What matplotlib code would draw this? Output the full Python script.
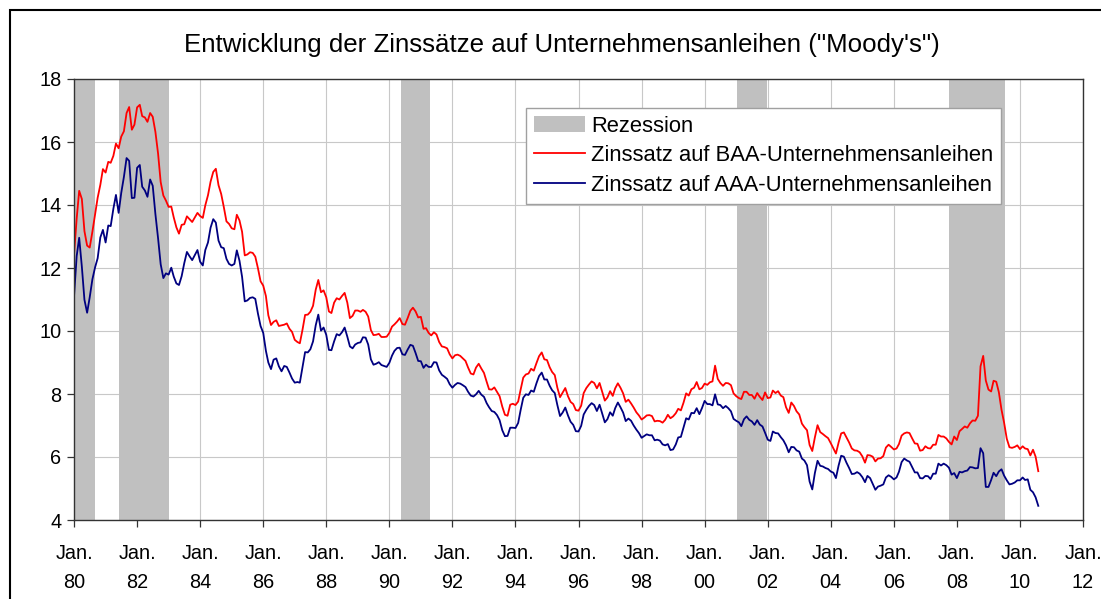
import numpy as np
import pandas as pd
import matplotlib
matplotlib.use("Agg")
import matplotlib.pyplot as plt
import matplotlib.patches as mpatches
from matplotlib.lines import Line2D

plt.rcParams["font.family"] = ["Liberation Sans", "DejaVu Sans"]

# Moody's monthly yields in %, Jan 1980 .. Aug 2010
baa = [
    12.42, 13.57, 14.45, 14.19, 13.17, 12.71, 12.65, 13.15, 13.70, 14.23, 14.64, 15.14,  # 1980
    15.03, 15.37, 15.34, 15.56, 15.95, 15.80, 16.17, 16.34, 16.92, 17.11, 16.39, 16.55,  # 1981
    17.10, 17.18, 16.82, 16.78, 16.64, 16.92, 16.80, 16.32, 15.63, 14.73, 14.30, 14.14,  # 1982
    13.94, 13.95, 13.61, 13.29, 13.09, 13.37, 13.39, 13.64, 13.55, 13.46, 13.61, 13.75,  # 1983
    13.65, 13.59, 13.99, 14.31, 14.74, 15.05, 15.15, 14.63, 14.35, 13.94, 13.48, 13.40,  # 1984
    13.26, 13.23, 13.69, 13.51, 13.15, 12.40, 12.43, 12.50, 12.48, 12.36, 11.99, 11.58,  # 1985
    11.44, 11.11, 10.50, 10.19, 10.29, 10.34, 10.16, 10.18, 10.20, 10.24, 10.07, 9.97,   # 1986
    9.72, 9.65, 9.61, 10.04, 10.51, 10.52, 10.61, 10.80, 11.31, 11.62, 11.23, 11.29,     # 1987
    11.07, 10.62, 10.57, 10.90, 11.04, 11.00, 11.11, 11.21, 10.90, 10.41, 10.48, 10.65,  # 1988
    10.65, 10.61, 10.67, 10.61, 10.46, 10.03, 9.87, 9.88, 9.91, 9.81, 9.81, 9.82,        # 1989
    9.94, 10.14, 10.21, 10.30, 10.41, 10.22, 10.20, 10.41, 10.64, 10.74, 10.62, 10.43,   # 1990
    10.45, 10.07, 10.09, 9.94, 9.86, 9.96, 9.89, 9.65, 9.51, 9.49, 9.45, 9.26,           # 1991
    9.13, 9.23, 9.25, 9.21, 9.13, 9.05, 8.84, 8.65, 8.62, 8.84, 8.96, 8.81,              # 1992
    8.67, 8.39, 8.15, 8.14, 8.21, 8.07, 7.93, 7.60, 7.34, 7.31, 7.66, 7.69,              # 1993
    7.65, 7.76, 8.13, 8.52, 8.62, 8.65, 8.80, 8.74, 8.98, 9.20, 9.32, 9.10,              # 1994
    9.08, 8.85, 8.70, 8.60, 8.20, 7.90, 8.04, 8.19, 7.93, 7.75, 7.68, 7.49,              # 1995
    7.47, 7.63, 8.03, 8.19, 8.30, 8.40, 8.35, 8.18, 8.35, 8.07, 7.79, 7.89,              # 1996
    8.09, 7.94, 8.18, 8.34, 8.20, 8.02, 7.75, 7.82, 7.70, 7.57, 7.42, 7.32,              # 1997
    7.19, 7.25, 7.32, 7.33, 7.30, 7.13, 7.15, 7.14, 7.09, 7.18, 7.34, 7.23,              # 1998
    7.29, 7.39, 7.53, 7.48, 7.72, 8.02, 7.95, 8.15, 8.20, 8.38, 8.15, 8.19,              # 1999
    8.33, 8.29, 8.37, 8.40, 8.90, 8.48, 8.35, 8.26, 8.35, 8.34, 8.28, 8.02,              # 2000
    7.93, 7.87, 7.84, 8.07, 8.07, 7.97, 7.97, 7.85, 8.03, 7.91, 7.81, 8.05,              # 2001
    7.87, 7.89, 8.11, 8.03, 8.09, 7.95, 7.90, 7.58, 7.40, 7.73, 7.62, 7.45,              # 2002
    7.35, 7.06, 6.95, 6.85, 6.38, 6.19, 6.62, 7.01, 6.79, 6.73, 6.66, 6.60,              # 2003
    6.44, 6.27, 6.11, 6.46, 6.75, 6.78, 6.62, 6.46, 6.27, 6.21, 6.20, 6.15,              # 2004
    6.02, 5.82, 6.06, 6.05, 6.01, 5.86, 5.95, 5.96, 6.03, 6.30, 6.39, 6.32,              # 2005
    6.24, 6.27, 6.41, 6.68, 6.75, 6.78, 6.76, 6.59, 6.43, 6.42, 6.20, 6.22,              # 2006
    6.34, 6.28, 6.27, 6.39, 6.39, 6.70, 6.65, 6.65, 6.59, 6.48, 6.40, 6.65,              # 2007
    6.54, 6.82, 6.89, 6.97, 6.93, 7.07, 7.16, 7.15, 7.31, 8.88, 9.21, 8.43,              # 2008
    8.14, 8.08, 8.42, 8.39, 8.06, 7.50, 7.09, 6.58, 6.31, 6.29, 6.32, 6.37,              # 2009
    6.25, 6.34, 6.27, 6.25, 6.05, 6.23, 6.01, 5.55,                                      # 2010
]
aaa = [
    11.09, 12.38, 12.96, 12.04, 10.99, 10.58, 11.07, 11.64, 12.02, 12.31, 12.97, 13.21,  # 1980
    12.81, 13.35, 13.33, 13.88, 14.32, 13.75, 14.38, 14.89, 15.49, 15.40, 14.22, 14.23,  # 1981
    15.18, 15.27, 14.58, 14.46, 14.26, 14.81, 14.61, 13.71, 12.94, 12.12, 11.68, 11.83,  # 1982
    11.79, 12.01, 11.73, 11.51, 11.46, 11.74, 12.15, 12.51, 12.37, 12.25, 12.41, 12.57,  # 1983
    12.20, 12.08, 12.57, 12.81, 13.28, 13.55, 13.44, 12.87, 12.66, 12.63, 12.29, 12.13,  # 1984
    12.08, 12.13, 12.56, 12.23, 11.72, 10.94, 10.97, 11.05, 11.07, 11.02, 10.55, 10.16,  # 1985
    9.94, 9.37, 9.00, 8.79, 9.09, 9.13, 8.88, 8.72, 8.89, 8.86, 8.68, 8.49,              # 1986
    8.36, 8.38, 8.36, 8.85, 9.33, 9.32, 9.42, 9.67, 10.18, 10.52, 10.01, 10.11,          # 1987
    9.88, 9.40, 9.39, 9.67, 9.90, 9.86, 9.96, 10.11, 9.82, 9.51, 9.45, 9.57,             # 1988
    9.62, 9.64, 9.80, 9.79, 9.57, 9.10, 8.93, 8.96, 9.01, 8.92, 8.89, 8.86,              # 1989
    8.99, 9.22, 9.37, 9.46, 9.47, 9.26, 9.24, 9.41, 9.56, 9.53, 9.30, 9.05,              # 1990
    9.04, 8.83, 8.93, 8.86, 8.86, 9.01, 9.00, 8.75, 8.61, 8.55, 8.48, 8.31,              # 1991
    8.20, 8.29, 8.35, 8.33, 8.28, 8.22, 8.07, 7.95, 7.92, 7.99, 8.10, 7.98,              # 1992
    7.91, 7.71, 7.58, 7.46, 7.43, 7.33, 7.17, 6.85, 6.66, 6.67, 6.93, 6.93,              # 1993
    6.92, 7.08, 7.48, 7.88, 7.99, 7.97, 8.11, 8.07, 8.34, 8.57, 8.68, 8.46,              # 1994
    8.46, 8.26, 8.12, 8.03, 7.65, 7.30, 7.41, 7.57, 7.32, 7.12, 7.02, 6.82,              # 1995
    6.81, 6.99, 7.35, 7.50, 7.62, 7.71, 7.65, 7.46, 7.66, 7.39, 7.10, 7.20,              # 1996
    7.42, 7.31, 7.55, 7.73, 7.58, 7.41, 7.14, 7.22, 7.15, 7.00, 6.87, 6.76,              # 1997
    6.61, 6.67, 6.72, 6.69, 6.69, 6.53, 6.55, 6.52, 6.40, 6.37, 6.41, 6.22,              # 1998
    6.24, 6.40, 6.62, 6.64, 6.93, 7.23, 7.19, 7.40, 7.39, 7.55, 7.36, 7.55,              # 1999
    7.78, 7.68, 7.68, 7.64, 7.99, 7.67, 7.65, 7.55, 7.62, 7.55, 7.45, 7.21,              # 2000
    7.15, 7.10, 6.98, 7.20, 7.29, 7.18, 7.13, 7.02, 7.17, 7.03, 6.97, 6.77,              # 2001
    6.55, 6.51, 6.81, 6.76, 6.75, 6.63, 6.53, 6.37, 6.15, 6.32, 6.31, 6.21,              # 2002
    6.17, 5.95, 5.89, 5.74, 5.22, 4.97, 5.49, 5.88, 5.72, 5.70, 5.65, 5.62,              # 2003
    5.54, 5.50, 5.33, 5.73, 6.04, 6.01, 5.82, 5.65, 5.46, 5.47, 5.52, 5.47,              # 2004
    5.36, 5.20, 5.40, 5.33, 5.15, 4.96, 5.06, 5.09, 5.13, 5.35, 5.42, 5.37,              # 2005
    5.29, 5.35, 5.53, 5.84, 5.95, 5.89, 5.85, 5.68, 5.51, 5.51, 5.33, 5.32,              # 2006
    5.40, 5.39, 5.30, 5.47, 5.47, 5.79, 5.73, 5.79, 5.74, 5.66, 5.44, 5.49,              # 2007
    5.33, 5.53, 5.51, 5.55, 5.57, 5.68, 5.67, 5.64, 5.65, 6.28, 6.12, 5.05,              # 2008
    5.05, 5.27, 5.50, 5.39, 5.54, 5.61, 5.41, 5.26, 5.13, 5.15, 5.19, 5.26,              # 2009
    5.26, 5.35, 5.27, 5.29, 4.96, 4.88, 4.72, 4.45,                                      # 2010
]
dates = pd.date_range("1980-01-01", periods=len(baa), freq="MS")

# recession shading (start, end)
rec_start = ["1980-01-01", "1981-06-01", "1990-05-15", "2001-01-15", "2007-10-01"]
rec_end   = ["1980-09-01", "1983-01-01", "1991-04-15", "2001-12-20", "2009-07-10"]

tick_years = list(range(1980, 2013, 2))
y_ticks = [4, 6, 8, 10, 12, 14, 16, 18]

RED  = "#FF0000"
NAVY = "#000080"
GRAY = "#C0C0C0"
GRID = "#C8C8C8"
DARK = "#333333"

W, H = 1101, 599
fig = plt.figure(figsize=(W / 100, H / 100), dpi=100)
ax = fig.add_axes([74 / W, (H - 520) / H, (1083 - 74) / W, (520 - 79) / H])

# outer chart frame (runs off the right and bottom edge)
fig.patches.append(mpatches.Rectangle((10 / W, -0.2), 1.5, 1.2 - 10 / H,
                                      transform=fig.transFigure, fill=False,
                                      edgecolor="black", linewidth=1.5))

for s, e in zip(rec_start, rec_end):
    ax.axvspan(pd.Timestamp(s), pd.Timestamp(e), color=GRAY, lw=0, zorder=1)

ax.plot(dates, baa, color=RED, lw=1.3, zorder=3)
ax.plot(dates, aaa, color=NAVY, lw=1.3, zorder=3)

ax.set_xlim(pd.Timestamp("1980-01-01"), pd.Timestamp("2012-01-01"))
ax.set_ylim(4, 18)
ax.set_yticks(y_ticks)
ax.set_yticklabels([str(v) for v in y_ticks])
ax.set_xticks([pd.Timestamp(f"{y}-01-01") for y in tick_years])
ax.set_xticklabels([f"Jan.\n{y % 100:02d}" for y in tick_years], linespacing=1.7)

ax.grid(True, color=GRID, lw=0.8, zorder=0)
ax.set_axisbelow(True)
ax.tick_params(direction="out", length=5, width=0.9, color=DARK,
               labelsize=14.3, pad=4)
ax.tick_params(axis="x", pad=12)
for sp in ax.spines.values():
    sp.set_color(DARK)
    sp.set_linewidth(1.0)
    sp.set_zorder(4)

fig.text(562 / W, 1 - 45 / H,
         "Entwicklung der Zinssätze auf Unternehmensanleihen (\"Moody's\")",
         ha="center", va="center", fontsize=18.6)

handles = [mpatches.Patch(facecolor=GRAY, edgecolor="none"),
           Line2D([], [], color=RED, lw=1.3),
           Line2D([], [], color=NAVY, lw=1.3)]
labels = ["Rezession",
          "Zinssatz auf BAA-Unternehmensanleihen",
          "Zinssatz auf AAA-Unternehmensanleihen"]
leg = fig.legend(handles, labels, loc="upper left",
                 bbox_to_anchor=(526 / W, 1 - 108 / H), borderaxespad=0,
                 fontsize=15.8, fancybox=False, framealpha=1, edgecolor="#A0A0A0",
                 handlelength=2.35, handleheight=0.8, handletextpad=0.28,
                 labelspacing=0.4, borderpad=0.35)
leg.get_frame().set_linewidth(1.0)

fig.savefig("out.png", dpi=100)
